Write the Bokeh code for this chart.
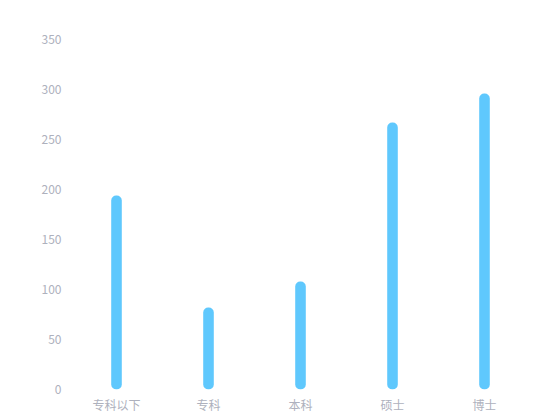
from bokeh.plotting import figure
from bokeh.models import FixedTicker, ColumnDataSource
from bokeh.embed import file_html
from bokeh.resources import INLINE

categories = ["专科以下", "专科", "本科", "硕士", "博士"]
values = [194, 82, 108, 267, 296]
y_ticks = [0, 50, 100, 150, 200, 250, 300, 350]

src = ColumnDataSource(dict(cat=categories, val=values))

p = figure(x_range=categories, y_range=(0, 350),
           frame_width=460, frame_height=350,
           output_backend="svg", toolbar_location=None,
           min_border_left=70, min_border_right=15, min_border_top=39, min_border_bottom=20)
p.outline_line_color = None
p.xgrid.grid_line_color = None
p.ygrid.grid_line_color = None
p.background_fill_color = "white"
p.border_fill_color = "white"

p.vbar(x="cat", top="val", bottom=0, width=0.115, source=src,
       fill_color="#5fc8fd", line_color=None, border_radius=5)

label_color = "#aeb1bd"
for ax in (p.xaxis, p.yaxis):
    ax.axis_line_color = None
    ax.major_tick_line_color = None
    ax.minor_tick_line_color = None
    ax.major_tick_out = 0
    ax.major_tick_in = 0
    ax.minor_tick_out = 0
    ax.major_label_text_color = label_color
    ax.major_label_text_font_size = "12px"
    ax.major_label_text_font = "Noto Sans CJK SC"
p.yaxis.ticker = FixedTicker(ticks=y_ticks)
p.yaxis.major_label_standoff = 9
p.xaxis.major_label_standoff = 6

open("out.html", "w").write(file_html(p, INLINE))
